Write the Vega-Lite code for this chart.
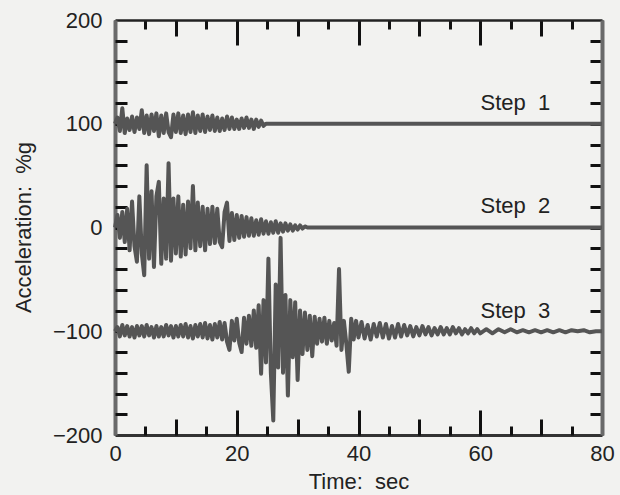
{
"$schema": "https://vega.github.io/schema/vega-lite/v6.json",
"width": 487, "height": 415,
"autosize": "none",
"padding": {"left": 115, "top": 20, "right": 18, "bottom": 60},
"background": "#f2f2f0",
"config": {"view": {"stroke": null}, "font": "Liberation Sans", "axis": {"grid": false}},
"datasets": {
"traces": [
{"s":1,"t":0,"a":100},{"s":1,"t":0.4,"a":106},{"s":1,"t":0.8,"a":93},{"s":1,"t":1.2,"a":115},{"s":1,"t":1.6,"a":91},{"s":1,"t":2.0,"a":105},{"s":1,"t":2.4,"a":94},{"s":1,"t":2.8,"a":107},{"s":1,"t":3.2,"a":92},{"s":1,"t":3.6,"a":106},{"s":1,"t":4.0,"a":95},{"s":1,"t":4.4,"a":113},{"s":1,"t":4.8,"a":91},{"s":1,"t":5.2,"a":108},{"s":1,"t":5.6,"a":90},{"s":1,"t":6.0,"a":109},{"s":1,"t":6.4,"a":93},{"s":1,"t":6.8,"a":110},{"s":1,"t":7.2,"a":88},{"s":1,"t":7.6,"a":108},{"s":1,"t":8.0,"a":91},{"s":1,"t":8.4,"a":110},{"s":1,"t":8.8,"a":92},{"s":1,"t":9.2,"a":87},{"s":1,"t":9.6,"a":109},{"s":1,"t":10.0,"a":92},{"s":1,"t":10.4,"a":110},{"s":1,"t":10.8,"a":91},{"s":1,"t":11.2,"a":108},{"s":1,"t":11.6,"a":90},{"s":1,"t":12.0,"a":109},{"s":1,"t":12.4,"a":92},{"s":1,"t":12.8,"a":111},{"s":1,"t":13.2,"a":91},{"s":1,"t":13.6,"a":108},{"s":1,"t":14.0,"a":93},{"s":1,"t":14.4,"a":109},{"s":1,"t":14.8,"a":92},{"s":1,"t":15.2,"a":107},{"s":1,"t":15.6,"a":94},{"s":1,"t":16.0,"a":108},{"s":1,"t":16.4,"a":93},{"s":1,"t":16.8,"a":106},{"s":1,"t":17.2,"a":93},{"s":1,"t":17.6,"a":105},{"s":1,"t":18.0,"a":94},{"s":1,"t":18.4,"a":107},{"s":1,"t":18.8,"a":95},{"s":1,"t":19.2,"a":106},{"s":1,"t":19.6,"a":95},{"s":1,"t":20.0,"a":104},{"s":1,"t":20.4,"a":95},{"s":1,"t":20.8,"a":105},{"s":1,"t":21.2,"a":96},{"s":1,"t":21.6,"a":106},{"s":1,"t":22.0,"a":96},{"s":1,"t":22.4,"a":104},{"s":1,"t":22.8,"a":95},{"s":1,"t":23.2,"a":104},{"s":1,"t":23.6,"a":97},{"s":1,"t":24.0,"a":103},{"s":1,"t":24.4,"a":98},{"s":1,"t":24.8,"a":100},{"s":1,"t":80,"a":100},
{"s":2,"t":0,"a":0},{"s":2,"t":0.4,"a":12},{"s":2,"t":0.8,"a":-10},{"s":2,"t":1.2,"a":15},{"s":2,"t":1.6,"a":-14},{"s":2,"t":2.0,"a":18},{"s":2,"t":2.4,"a":-22},{"s":2,"t":2.8,"a":25},{"s":2,"t":3.2,"a":-18},{"s":2,"t":3.6,"a":-33},{"s":2,"t":4.0,"a":30},{"s":2,"t":4.4,"a":-25},{"s":2,"t":4.8,"a":-46},{"s":2,"t":5.2,"a":60},{"s":2,"t":5.6,"a":-30},{"s":2,"t":6.0,"a":35},{"s":2,"t":6.4,"a":-38},{"s":2,"t":6.8,"a":30},{"s":2,"t":7.2,"a":44},{"s":2,"t":7.6,"a":-35},{"s":2,"t":8.0,"a":28},{"s":2,"t":8.4,"a":-30},{"s":2,"t":8.8,"a":62},{"s":2,"t":9.2,"a":-32},{"s":2,"t":9.6,"a":28},{"s":2,"t":10.0,"a":-25},{"s":2,"t":10.4,"a":30},{"s":2,"t":10.8,"a":-28},{"s":2,"t":11.2,"a":22},{"s":2,"t":11.6,"a":-26},{"s":2,"t":12.0,"a":25},{"s":2,"t":12.4,"a":-20},{"s":2,"t":12.8,"a":40},{"s":2,"t":13.2,"a":-22},{"s":2,"t":13.6,"a":24},{"s":2,"t":14.0,"a":-18},{"s":2,"t":14.4,"a":20},{"s":2,"t":14.8,"a":-22},{"s":2,"t":15.2,"a":18},{"s":2,"t":15.6,"a":-16},{"s":2,"t":16.0,"a":20},{"s":2,"t":16.4,"a":-15},{"s":2,"t":16.8,"a":18},{"s":2,"t":17.2,"a":-14},{"s":2,"t":17.6,"a":-19},{"s":2,"t":18.0,"a":15},{"s":2,"t":18.4,"a":24},{"s":2,"t":18.8,"a":-13},{"s":2,"t":19.2,"a":14},{"s":2,"t":19.6,"a":-12},{"s":2,"t":20.0,"a":12},{"s":2,"t":20.4,"a":-10},{"s":2,"t":20.8,"a":11},{"s":2,"t":21.2,"a":-9},{"s":2,"t":21.6,"a":10},{"s":2,"t":22.0,"a":-8},{"s":2,"t":22.4,"a":9},{"s":2,"t":22.8,"a":-8},{"s":2,"t":23.2,"a":7},{"s":2,"t":23.6,"a":-7},{"s":2,"t":24.0,"a":8},{"s":2,"t":24.4,"a":-6},{"s":2,"t":24.8,"a":6},{"s":2,"t":25.2,"a":-6},{"s":2,"t":25.6,"a":5},{"s":2,"t":26.0,"a":-5},{"s":2,"t":26.4,"a":6},{"s":2,"t":26.8,"a":-5},{"s":2,"t":27.2,"a":4},{"s":2,"t":27.6,"a":-4},{"s":2,"t":28.0,"a":4},{"s":2,"t":28.4,"a":-3},{"s":2,"t":28.8,"a":3},{"s":2,"t":29.2,"a":-3},{"s":2,"t":29.6,"a":2},{"s":2,"t":30.0,"a":-2},{"s":2,"t":30.4,"a":2},{"s":2,"t":30.8,"a":-1},{"s":2,"t":31.2,"a":1},{"s":2,"t":31.6,"a":0},{"s":2,"t":80,"a":0},
{"s":3,"t":0,"a":-100},{"s":3,"t":0.4,"a":-96},{"s":3,"t":0.8,"a":-105},{"s":3,"t":1.2,"a":-94},{"s":3,"t":1.6,"a":-104},{"s":3,"t":2.0,"a":-95},{"s":3,"t":2.4,"a":-105},{"s":3,"t":2.8,"a":-96},{"s":3,"t":3.2,"a":-106},{"s":3,"t":3.6,"a":-95},{"s":3,"t":4.0,"a":-104},{"s":3,"t":4.4,"a":-95},{"s":3,"t":4.8,"a":-105},{"s":3,"t":5.2,"a":-94},{"s":3,"t":5.6,"a":-104},{"s":3,"t":6.0,"a":-96},{"s":3,"t":6.4,"a":-106},{"s":3,"t":6.8,"a":-95},{"s":3,"t":7.2,"a":-105},{"s":3,"t":7.6,"a":-96},{"s":3,"t":8.0,"a":-105},{"s":3,"t":8.4,"a":-94},{"s":3,"t":8.8,"a":-104},{"s":3,"t":9.2,"a":-95},{"s":3,"t":9.6,"a":-106},{"s":3,"t":10.0,"a":-95},{"s":3,"t":10.4,"a":-105},{"s":3,"t":10.8,"a":-94},{"s":3,"t":11.2,"a":-105},{"s":3,"t":11.6,"a":-93},{"s":3,"t":12.0,"a":-106},{"s":3,"t":12.4,"a":-95},{"s":3,"t":12.8,"a":-107},{"s":3,"t":13.2,"a":-94},{"s":3,"t":13.6,"a":-105},{"s":3,"t":14.0,"a":-93},{"s":3,"t":14.4,"a":-106},{"s":3,"t":14.8,"a":-92},{"s":3,"t":15.2,"a":-107},{"s":3,"t":15.6,"a":-94},{"s":3,"t":16.0,"a":-108},{"s":3,"t":16.4,"a":-93},{"s":3,"t":16.8,"a":-106},{"s":3,"t":17.2,"a":-91},{"s":3,"t":17.6,"a":-108},{"s":3,"t":18.0,"a":-92},{"s":3,"t":18.4,"a":-110},{"s":3,"t":18.8,"a":-118},{"s":3,"t":19.2,"a":-90},{"s":3,"t":19.6,"a":-109},{"s":3,"t":20.0,"a":-88},{"s":3,"t":20.4,"a":-111},{"s":3,"t":20.8,"a":-120},{"s":3,"t":21.2,"a":-87},{"s":3,"t":21.6,"a":-112},{"s":3,"t":22.0,"a":-85},{"s":3,"t":22.4,"a":-114},{"s":3,"t":22.8,"a":-80},{"s":3,"t":23.2,"a":-116},{"s":3,"t":23.6,"a":-75},{"s":3,"t":24.0,"a":-141},{"s":3,"t":24.4,"a":-70},{"s":3,"t":24.8,"a":-130},{"s":3,"t":25.2,"a":-30},{"s":3,"t":25.6,"a":-140},{"s":3,"t":26.0,"a":-186},{"s":3,"t":26.4,"a":-55},{"s":3,"t":26.8,"a":-135},{"s":3,"t":27.2,"a":-10},{"s":3,"t":27.6,"a":-140},{"s":3,"t":28.0,"a":-65},{"s":3,"t":28.4,"a":-162},{"s":3,"t":28.8,"a":-70},{"s":3,"t":29.2,"a":-125},{"s":3,"t":29.6,"a":-72},{"s":3,"t":30.0,"a":-147},{"s":3,"t":30.4,"a":-80},{"s":3,"t":30.8,"a":-122},{"s":3,"t":31.2,"a":-82},{"s":3,"t":31.6,"a":-118},{"s":3,"t":32.0,"a":-85},{"s":3,"t":32.4,"a":-124},{"s":3,"t":32.8,"a":-86},{"s":3,"t":33.2,"a":-112},{"s":3,"t":33.6,"a":-88},{"s":3,"t":34.0,"a":-110},{"s":3,"t":34.4,"a":-87},{"s":3,"t":34.8,"a":-112},{"s":3,"t":35.2,"a":-90},{"s":3,"t":35.6,"a":-109},{"s":3,"t":36.0,"a":-92},{"s":3,"t":36.4,"a":-114},{"s":3,"t":36.8,"a":-40},{"s":3,"t":37.2,"a":-118},{"s":3,"t":37.6,"a":-90},{"s":3,"t":38.0,"a":-112},{"s":3,"t":38.4,"a":-139},{"s":3,"t":38.8,"a":-88},{"s":3,"t":39.2,"a":-108},{"s":3,"t":39.6,"a":-90},{"s":3,"t":40.0,"a":-106},{"s":3,"t":40.5,"a":-91},{"s":3,"t":41.0,"a":-107},{"s":3,"t":41.5,"a":-94},{"s":3,"t":42.0,"a":-108},{"s":3,"t":42.5,"a":-93},{"s":3,"t":43.0,"a":-105},{"s":3,"t":43.5,"a":-92},{"s":3,"t":44.0,"a":-106},{"s":3,"t":44.5,"a":-93},{"s":3,"t":45.0,"a":-107},{"s":3,"t":45.5,"a":-95},{"s":3,"t":46.0,"a":-106},{"s":3,"t":46.5,"a":-93},{"s":3,"t":47.0,"a":-105},{"s":3,"t":47.5,"a":-94},{"s":3,"t":48.0,"a":-104},{"s":3,"t":48.5,"a":-95},{"s":3,"t":49.0,"a":-105},{"s":3,"t":49.5,"a":-96},{"s":3,"t":50.0,"a":-104},{"s":3,"t":50.5,"a":-95},{"s":3,"t":51.0,"a":-103},{"s":3,"t":51.5,"a":-96},{"s":3,"t":52.0,"a":-104},{"s":3,"t":52.5,"a":-97},{"s":3,"t":53.0,"a":-103},{"s":3,"t":53.5,"a":-96},{"s":3,"t":54.0,"a":-103},{"s":3,"t":54.5,"a":-97},{"s":3,"t":55.0,"a":-103},{"s":3,"t":55.5,"a":-96},{"s":3,"t":56.0,"a":-102},{"s":3,"t":56.5,"a":-97},{"s":3,"t":57.0,"a":-103},{"s":3,"t":57.5,"a":-98},{"s":3,"t":58.0,"a":-102},{"s":3,"t":58.5,"a":-97},{"s":3,"t":59.0,"a":-102},{"s":3,"t":59.5,"a":-98},{"s":3,"t":60,"a":-102},{"s":3,"t":61,"a":-98},{"s":3,"t":62,"a":-102},{"s":3,"t":63,"a":-98},{"s":3,"t":64,"a":-101},{"s":3,"t":65,"a":-98},{"s":3,"t":66,"a":-101},{"s":3,"t":67,"a":-99},{"s":3,"t":68,"a":-101},{"s":3,"t":69,"a":-99},{"s":3,"t":70,"a":-101},{"s":3,"t":71,"a":-99},{"s":3,"t":72,"a":-101},{"s":3,"t":73,"a":-99},{"s":3,"t":74,"a":-101},{"s":3,"t":75,"a":-99},{"s":3,"t":76,"a":-100},{"s":3,"t":77,"a":-99},{"s":3,"t":78,"a":-101},{"s":3,"t":79,"a":-100},{"s":3,"t":80,"a":-100}
],
"labels": [
{"t":71.5,"a":120,"label":"Step\u00a0 1"},
{"t":71.5,"a":21,"label":"Step\u00a0 2"},
{"t":71.5,"a":-80,"label":"Step\u00a0 3"}
]
},
"resolve": {"axis": {"x": "independent", "y": "independent"}},
"layer": [
{
"data": {"name": "traces"},
"mark": {"type": "line", "color": "#555555", "strokeWidth": 4, "strokeJoin": "round"},
"encoding": {
"x": {"field": "t", "type": "quantitative", "scale": {"domain": [0, 80], "nice": false, "zero": false},
"axis": {"orient": "bottom", "values": [0, 20, 40, 60, 80], "ticks": false, "domain": true, "domainColor": "#333", "domainWidth": 3,
"labelFontSize": 22, "labelColor": "#222", "labelPadding": 8, "labelFlush": false,
"title": "Time:\u00a0 sec", "titleFontSize": 22, "titleFontWeight": "normal", "titleColor": "#222", "titleY": 53, "titleBaseline": "alphabetic"}},
"y": {"field": "a", "type": "quantitative", "scale": {"domain": [-200, 200], "nice": false, "zero": false},
"axis": {"orient": "left", "values": [-200, -100, 0, 100, 200], "ticks": false, "domain": true, "domainColor": "#6a6a6a", "domainWidth": 4,
"labelFontSize": 22, "labelColor": "#222", "labelPadding": 13, "labelFlush": false,
"title": "Acceleration:\u00a0 %g", "titleFontSize": 22, "titleFontWeight": "normal", "titleColor": "#222", "titleX": -92, "titleY": 207, "titleAngle": 270, "titleAlign": "center", "titleBaseline": "middle"}},
"detail": {"field": "s", "type": "nominal"}
}
},
{
"data": {"name": "labels"},
"mark": {"type": "text", "align": "right", "baseline": "middle", "fontSize": 22, "color": "#222"},
"encoding": {
"x": {"field": "t", "type": "quantitative", "scale": {"domain": [0, 80], "nice": false, "zero": false},
"axis": {"orient": "bottom", "values": [0,5,10,15,20,25,30,35,40,45,50,55,60,65,70,75,80], "labels": false, "domain": false, "title": null,
"tickColor": "#111", "tickWidth": 3,
"tickSize": {"condition": [{"test": "datum.value % 20 === 0", "value": -25}, {"test": "datum.value % 10 === 0", "value": -16}], "value": -9}}},
"y": {"field": "a", "type": "quantitative", "scale": {"domain": [-200, 200], "nice": false, "zero": false},
"axis": {"orient": "left", "values": [-180,-160,-140,-120,-100,-80,-60,-40,-20,0,20,40,60,80,100,120,140,160,180], "labels": false, "domain": false, "title": null,
"tickColor": "#111", "tickWidth": 3, "tickSize": -12}},
"text": {"field": "label", "type": "nominal"}
}
},
{
"data": {"name": "labels"},
"mark": {"type": "point", "opacity": 0},
"encoding": {
"x": {"field": "t", "type": "quantitative", "scale": {"domain": [0, 80], "nice": false, "zero": false},
"axis": {"orient": "top", "values": [0,5,10,15,20,25,30,35,40,45,50,55,60,65,70,75,80], "labels": false, "domain": true, "domainColor": "#222", "domainWidth": 2.5, "title": null,
"tickColor": "#111", "tickWidth": 3,
"tickSize": {"condition": [{"test": "datum.value % 20 === 0", "value": -25}, {"test": "datum.value % 10 === 0", "value": -16}], "value": -9}}},
"y": {"field": "a", "type": "quantitative", "scale": {"domain": [-200, 200], "nice": false, "zero": false},
"axis": {"orient": "right", "values": [-180,-160,-140,-120,-100,-80,-60,-40,-20,0,20,40,60,80,100,120,140,160,180], "labels": false, "domain": true, "domainColor": "#6a6a6a", "domainWidth": 4, "title": null,
"tickColor": "#111", "tickWidth": 3, "tickSize": -12}}
}
}
]
}
